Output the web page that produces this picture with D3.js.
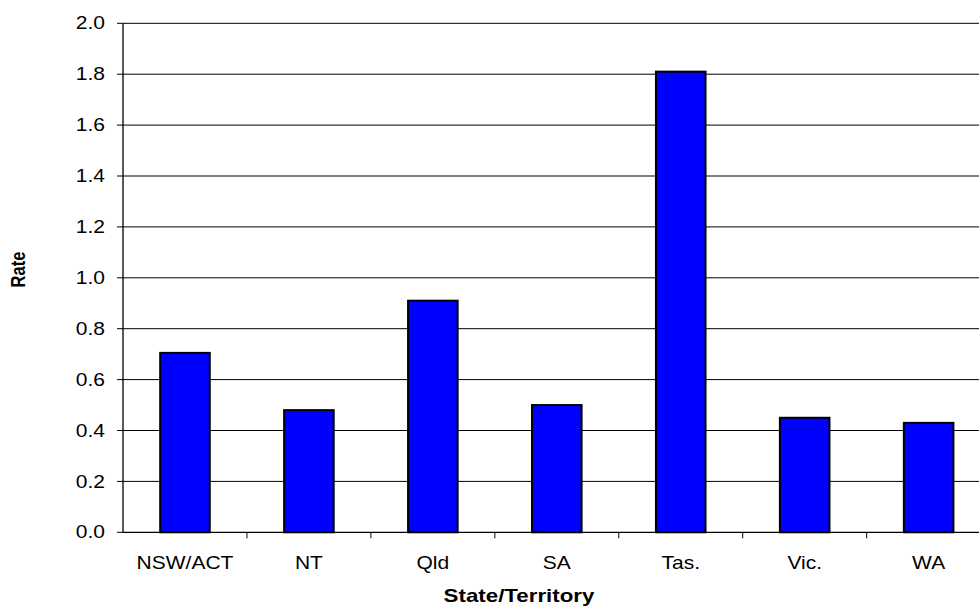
<!DOCTYPE html>
<html>
<head>
<meta charset="utf-8">
<script src="https://cdn.jsdelivr.net/npm/d3@7"></script>
<style>
  html, body { margin: 0; padding: 0; background: #fff; }
  svg { display: block; }
  text { font-family: "Liberation Sans", Arial, sans-serif; fill: #000; }
</style>
</head>
<body>
<script>
// Rate by state/territory
const categories = ["NSW/ACT", "NT", "Qld", "SA", "Tas.", "Vic.", "WA"];
const rates = [0.705, 0.48, 0.91, 0.50, 1.81, 0.45, 0.43];
const yTicks = [0, 0.2, 0.4, 0.6, 0.8, 1.0, 1.2, 1.4, 1.6, 1.8, 2.0];
const xTitle = "State/Territory";
const yTitle = "Rate";

const W = 979, H = 610;
const plot = { left: 123, right: 990.6, top: 23.3, bottom: 532.3 };
const stretch = 1.2; // horizontal text stretch

const svg = d3.select("body").append("svg")
  .attr("width", W).attr("height", H);

const x = d3.scaleBand()
  .domain(categories)
  .range([plot.left, plot.right])
  .padding(0);

const y = d3.scaleLinear()
  .domain([0, 2])
  .range([plot.bottom, plot.top]);

// horizontal gridlines
svg.append("g")
  .selectAll("line")
  .data(yTicks.filter(d => d > 0))
  .join("line")
  .attr("x1", plot.left).attr("x2", plot.right)
  .attr("y1", d => y(d)).attr("y2", d => y(d))
  .attr("stroke", "#000").attr("stroke-width", 1);

// bars (gap width 150%)
const barW = x.bandwidth() / 2.5;
svg.append("g")
  .selectAll("rect")
  .data(categories.map((c, i) => ({ c, v: rates[i] })))
  .join("rect")
  .attr("x", d => x(d.c) + (x.bandwidth() - barW) / 2)
  .attr("width", barW)
  .attr("y", d => y(d.v))
  .attr("height", d => y(0) - y(d.v))
  .attr("fill", "#0000ff")
  .attr("stroke", "#000")
  .attr("stroke-width", 2);

// y axis
const yAxis = svg.append("g").attr("transform", `translate(${plot.left},0)`);
yAxis.append("line")
  .attr("x1", 0).attr("x2", 0)
  .attr("y1", plot.top).attr("y2", plot.bottom)
  .attr("stroke", "#000").attr("stroke-width", 1.3);
const yt = yAxis.selectAll("g.tick")
  .data(yTicks)
  .join("g")
  .attr("class", "tick")
  .attr("transform", d => `translate(0,${y(d)})`);
yt.append("line")
  .attr("x1", -6).attr("x2", 0)
  .attr("stroke", "#000").attr("stroke-width", 1);
yt.append("text")
  .attr("transform", `translate(-18,0) scale(${stretch},1)`)
  .attr("text-anchor", "end")
  .attr("dy", "0.35em")
  .style("font-size", "17.5px")
  .text(d => d3.format(".1f")(d));

// x axis
const xAxis = svg.append("g").attr("transform", `translate(0,${plot.bottom})`);
xAxis.append("line")
  .attr("x1", plot.left).attr("x2", plot.right)
  .attr("stroke", "#000").attr("stroke-width", 1.3);
xAxis.selectAll("line.tick")
  .data(categories.slice(1).concat(["__end"]))
  .join("line")
  .attr("class", "tick")
  .attr("x1", (d, i) => plot.left + x.bandwidth() * (i + 1))
  .attr("x2", (d, i) => plot.left + x.bandwidth() * (i + 1))
  .attr("y1", 0).attr("y2", 6)
  .attr("stroke", "#000").attr("stroke-width", 1);
xAxis.selectAll("text")
  .data(categories)
  .join("text")
  .attr("transform", d => `translate(${x(d) + x.bandwidth() / 2},37) scale(${stretch},1)`)
  .attr("text-anchor", "middle")
  .style("font-size", "17.5px")
  .text(d => d);

// axis titles
svg.append("text")
  .attr("transform", `translate(519,602) scale(1.24,1)`)
  .attr("text-anchor", "middle")
  .style("font-size", "18px")
  .style("font-weight", "bold")
  .text(xTitle);

svg.append("text")
  .attr("transform", `translate(24.5,269.5) scale(${stretch},1) rotate(-90)`)
  .attr("text-anchor", "middle")
  .style("font-size", "16.5px")
  .style("font-weight", "bold")
  .text(yTitle);
</script>
</body>
</html>
